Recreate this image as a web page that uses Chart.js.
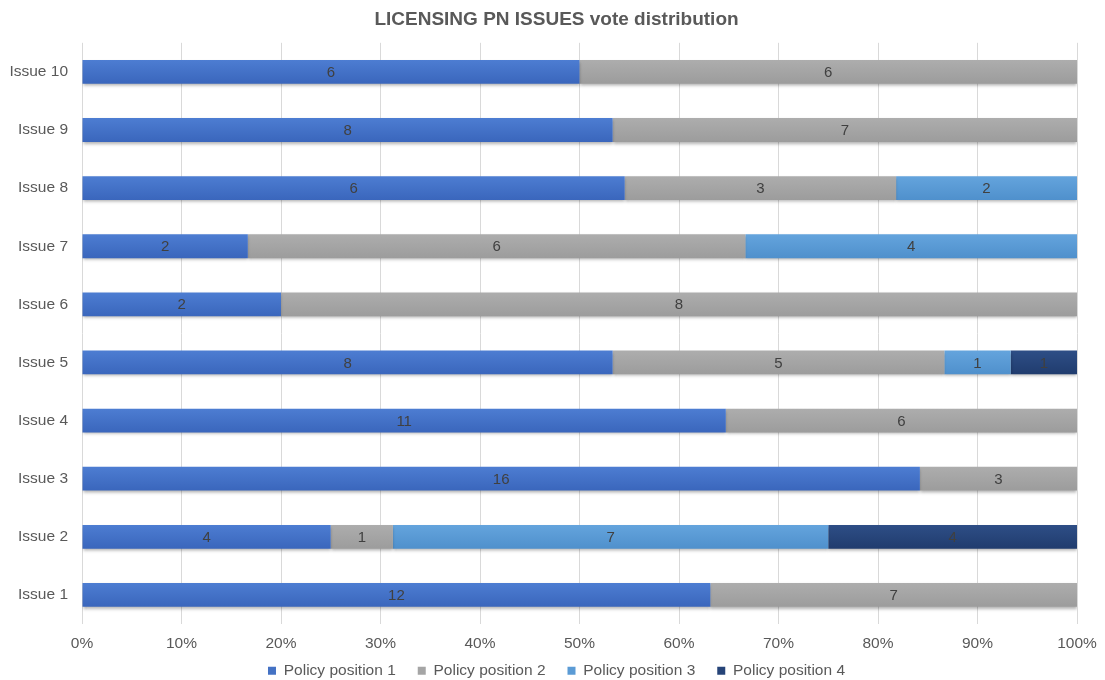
<!DOCTYPE html>
<html>
<head>
<meta charset="utf-8">
<script src="https://cdn.jsdelivr.net/npm/chart.js@4"></script>
<style>
html,body{margin:0;padding:0;background:#fff;}
#wrap{width:1105px;height:680px;}
</style>
</head>
<body>
<div id="wrap"><canvas id="c" width="1105" height="680"></canvas></div>
<script>
const categories = ['Issue 10','Issue 9','Issue 8','Issue 7','Issue 6','Issue 5','Issue 4','Issue 3','Issue 2','Issue 1'];
const position1 = [6, 8, 6, 2, 2, 8, 11, 16, 4, 12];
const position2 = [6, 7, 3, 6, 8, 5, 6, 3, 1, 7];
const position3 = [0, 0, 2, 4, 0, 1, 0, 0, 7, 0];
const position4 = [0, 0, 0, 0, 0, 1, 0, 0, 4, 0];
const seriesNames = ['Policy position 1','Policy position 2','Policy position 3','Policy position 4'];
const seriesColors = ['#4472C4','#A5A5A5','#5B9BD5','#264478'];
const seriesTop = ['#4D7DD2','#ADADAD','#64A4DD','#2E4E86'];
const seriesBottom = ['#3A66BC','#9C9C9C','#4F90CC','#203C6E'];
const xTicks = [0,10,20,30,40,50,60,70,80,90,100];

const FONT = '"Liberation Sans", Arial, sans-serif';
const counts = [position1, position2, position3, position4];
const totals = categories.map((_, i) => counts.reduce((s, a) => s + a[i], 0));

const labelPlugin = {
  id: 'segLabels',
  beforeDatasetsDraw(chart) {
    const ctx = chart.ctx;
    ctx.save();
    ctx.shadowColor = 'rgba(0,0,0,0.3)';
    ctx.shadowBlur = 3;
    ctx.shadowOffsetY = 2;
  },
  afterDatasetsDraw(chart) {
    const ctx = chart.ctx;
    ctx.restore();
    ctx.save();
    ctx.font = '15px ' + FONT;
    ctx.fillStyle = '#404040';
    ctx.textAlign = 'center';
    ctx.textBaseline = 'middle';
    chart.data.datasets.forEach((ds, di) => {
      const meta = chart.getDatasetMeta(di);
      meta.data.forEach((bar, i) => {
        const v = counts[di][i];
        if (!v) return;
        const x = (bar.x + bar.base) / 2;
        ctx.fillText(String(v), x, bar.y + 1);
      });
    });
    ctx.restore();
  }
};

const SHIFT = 13.5;
const layoutFix = {
  id: 'layoutFix',
  afterInit(chart) {
    const lg = chart.legend;
    if (!lg || lg._fixed) return;
    lg._fixed = true;
    const origFit = lg.fit.bind(lg);
    lg.fit = function () { origFit(); this.height = 27; };
    const origDraw = lg._draw.bind(lg);
    lg._draw = function () {
      const t = this.top;
      this.top = t - 12;
      origDraw();
      this.top = t;
    };
  },
  afterLayout(chart) {
    [chart.titleBlock, chart.legend].forEach(b => {
      if (b) { b.left += SHIFT; b.right += SHIFT; }
    });
  }
};

function barFill(di) {
  return (c) => {
    const chart = c.chart;
    const ys = chart.scales && chart.scales.y;
    if (!ys || c.dataIndex === undefined || !ys.getPixelForValue) return seriesColors[di];
    const y = ys.getPixelForValue(c.dataIndex);
    if (!isFinite(y)) return seriesColors[di];
    const g = chart.ctx.createLinearGradient(0, y - 12, 0, y + 12);
    g.addColorStop(0, seriesTop[di]);
    g.addColorStop(1, seriesBottom[di]);
    return g;
  };
}

new Chart(document.getElementById('c'), {
  type: 'bar',
  data: {
    labels: categories,
    datasets: counts.map((arr, di) => ({
      label: seriesNames[di],
      data: arr.map((v, i) => v / totals[i] * 100),
      backgroundColor: barFill(di),
      borderWidth: 0,
      categoryPercentage: 0.82,
      barPercentage: 0.5
    }))
  },
  options: {
    indexAxis: 'y',
    responsive: false,
    animation: false,
    layout: { padding: { left: 9, right: 28, top: 2, bottom: 0 } },
    plugins: {
      title: {
        display: true,
        text: 'LICENSING PN ISSUES vote distribution',
        color: '#595959',
        font: { family: FONT, size: 19, weight: 'bold' },
        padding: { top: 6, bottom: 12 }
      },
      legend: {
        position: 'bottom',
        labels: {
          color: '#595959',
          font: { family: FONT, size: 15.5 },
          boxWidth: 8, boxHeight: 8,
          padding: 22,
          generateLabels(chart) {
            return seriesNames.map((n, i) => ({
              text: n, fillStyle: seriesColors[i], strokeStyle: seriesColors[i],
              lineWidth: 0, datasetIndex: i, fontColor: '#595959'
            }));
          }
        }
      },
      tooltip: { enabled: false }
    },
    scales: {
      x: {
        stacked: true,
        min: 0, max: 100,
        afterBuildTicks(scale) { scale.ticks = xTicks.map(v => ({ value: v })); },
        afterFit(scale) { scale.height = 29; scale.paddingRight = 0; scale.paddingLeft = 0; },
        ticks: {
          color: '#595959',
          font: { family: FONT, size: 15.5 },
          callback: v => v + '%',
          padding: 10
        },
        grid: { color: '#D9D9D9', drawTicks: false },
        border: { display: false }
      },
      y: {
        stacked: true,
        afterFit(scale) { scale.width = 73; },
        ticks: {
          color: '#595959',
          font: { family: FONT, size: 15.5 },
          padding: 14
        },
        grid: { display: false, drawTicks: false },
        border: { display: false }
      }
    }
  },
  plugins: [labelPlugin, layoutFix]
});
</script>
</body>
</html>
